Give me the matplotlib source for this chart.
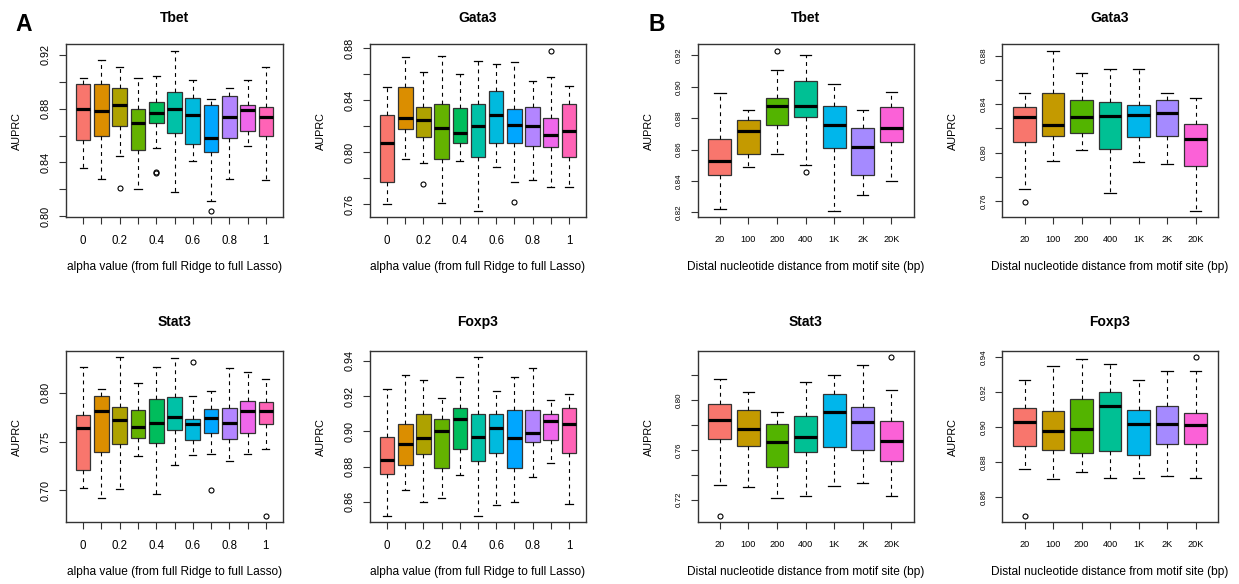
import matplotlib
matplotlib.use("Agg")
import matplotlib.pyplot as plt

plt.rcParams["font.family"] = ["Liberation Sans", "DejaVu Sans"]

W, H = 1239, 584

alpha_labels = ["0", "", "0.2", "", "0.4", "", "0.6", "", "0.8", "", "1"]
dist_labels = ["20", "100", "200", "400", "1K", "2K", "20K"]
alpha_xlab = "alpha value (from full Ridge to full Lasso)"
dist_xlab = "Distal nucleotide distance from motif site (bp)"

# ggplot hue palettes (11 and 7 levels)
pal11 = ["#F8766D", "#DB8E00", "#AEA200", "#64B200", "#00BD5C", "#00C1A7",
         "#00BADE", "#00A6FF", "#B385FF", "#EF67EB", "#FF63B6"]
pal7 = ["#F8766D", "#C49A00", "#53B400", "#00C094", "#00B6EB", "#A58AFF", "#FB61D7"]

# ---- A: alpha sweep ----
a_tbet_hi = [0.903, 0.916, 0.911, 0.903, 0.904, 0.923, 0.901, 0.887, 0.895, 0.901, 0.911]
a_tbet_q3 = [0.898, 0.898, 0.895, 0.880, 0.885, 0.892, 0.888, 0.883, 0.889, 0.883, 0.881]
a_tbet_med = [0.880, 0.878, 0.883, 0.869, 0.877, 0.880, 0.875, 0.858, 0.874, 0.879, 0.874]
a_tbet_q1 = [0.857, 0.860, 0.867, 0.849, 0.869, 0.862, 0.854, 0.848, 0.858, 0.863, 0.860]
a_tbet_lo = [0.836, 0.828, 0.845, 0.820, 0.851, 0.818, 0.841, 0.811, 0.828, 0.852, 0.827]
a_tbet_out = [[], [], [0.821], [], [0.833, 0.832], [], [], [0.804], [], [], []]
a_tbet_yt = [0.80, 0.82, 0.84, 0.86, 0.88, 0.90, 0.92]
a_tbet_yl = ["0.80", "", "0.84", "", "0.88", "", "0.92"]

a_gata3_hi = [0.850, 0.873, 0.862, 0.874, 0.860, 0.870, 0.868, 0.869, 0.855, 0.858, 0.851]
a_gata3_q3 = [0.829, 0.850, 0.835, 0.837, 0.834, 0.837, 0.847, 0.833, 0.835, 0.826, 0.837]
a_gata3_med = [0.807, 0.826, 0.825, 0.819, 0.815, 0.820, 0.829, 0.821, 0.820, 0.813, 0.816]
a_gata3_q1 = [0.777, 0.818, 0.812, 0.795, 0.807, 0.796, 0.807, 0.807, 0.805, 0.804, 0.796]
a_gata3_lo = [0.760, 0.795, 0.792, 0.761, 0.793, 0.755, 0.789, 0.777, 0.779, 0.773, 0.773]
a_gata3_out = [[], [], [0.776], [], [], [], [], [0.762], [], [0.878], []]
a_gata3_yt = [0.76, 0.78, 0.80, 0.82, 0.84, 0.86, 0.88]
a_gata3_yl = ["0.76", "", "0.80", "", "0.84", "", "0.88"]

a_stat3_hi = [0.826, 0.804, 0.836, 0.810, 0.826, 0.835, 0.797, 0.802, 0.825, 0.821, 0.814]
a_stat3_q3 = [0.777, 0.797, 0.785, 0.782, 0.793, 0.795, 0.773, 0.783, 0.784, 0.791, 0.790]
a_stat3_med = [0.764, 0.781, 0.772, 0.765, 0.769, 0.775, 0.768, 0.774, 0.769, 0.781, 0.781]
a_stat3_q1 = [0.721, 0.739, 0.747, 0.754, 0.749, 0.762, 0.752, 0.759, 0.753, 0.759, 0.768]
a_stat3_lo = [0.703, 0.692, 0.702, 0.735, 0.696, 0.726, 0.736, 0.737, 0.730, 0.737, 0.742]
a_stat3_out = [[], [], [], [], [], [], [0.831], [0.701], [], [], [0.674]]
a_stat3_yt = [0.70, 0.75, 0.80]
a_stat3_yl = ["0.70", "0.75", "0.80"]

a_foxp3_hi = [0.924, 0.932, 0.929, 0.919, 0.931, 0.942, 0.923, 0.931, 0.936, 0.918, 0.921]
a_foxp3_q3 = [0.897, 0.904, 0.910, 0.907, 0.913, 0.910, 0.910, 0.912, 0.912, 0.910, 0.913]
a_foxp3_med = [0.884, 0.893, 0.896, 0.900, 0.907, 0.897, 0.902, 0.896, 0.899, 0.906, 0.904]
a_foxp3_q1 = [0.876, 0.881, 0.887, 0.879, 0.890, 0.883, 0.888, 0.879, 0.894, 0.895, 0.888]
a_foxp3_lo = [0.852, 0.867, 0.860, 0.862, 0.875, 0.852, 0.858, 0.860, 0.874, 0.882, 0.859]
a_foxp3_out = [[], [], [], [], [], [], [], [], [], [], []]
a_foxp3_yt = [0.86, 0.88, 0.90, 0.92, 0.94]
a_foxp3_yl = ["0.86", "0.88", "0.90", "0.92", "0.94"]

# ---- B: distal distance ----
b_tbet_hi = [0.896, 0.885, 0.911, 0.920, 0.902, 0.885, 0.897]
b_tbet_q3 = [0.867, 0.879, 0.893, 0.904, 0.888, 0.874, 0.887]
b_tbet_med = [0.853, 0.872, 0.888, 0.888, 0.876, 0.862, 0.874]
b_tbet_q1 = [0.844, 0.857, 0.876, 0.881, 0.861, 0.844, 0.865]
b_tbet_lo = [0.822, 0.849, 0.857, 0.850, 0.821, 0.831, 0.840]
b_tbet_out = [[], [], [0.923], [0.846], [], [], []]
b_tbet_yt = [0.82, 0.84, 0.86, 0.88, 0.90, 0.92]
b_tbet_yl = ["0.82", "0.84", "0.86", "0.88", "0.90", "0.92"]

b_gata3_hi = [0.849, 0.884, 0.866, 0.869, 0.869, 0.849, 0.845]
b_gata3_q3 = [0.838, 0.849, 0.843, 0.842, 0.839, 0.843, 0.824]
b_gata3_med = [0.829, 0.823, 0.829, 0.830, 0.831, 0.833, 0.811]
b_gata3_q1 = [0.809, 0.814, 0.816, 0.803, 0.813, 0.814, 0.789]
b_gata3_lo = [0.770, 0.793, 0.802, 0.767, 0.792, 0.791, 0.752]
b_gata3_out = [[0.759], [], [], [], [], [], []]
b_gata3_yt = [0.76, 0.78, 0.80, 0.82, 0.84, 0.86, 0.88]
b_gata3_yl = ["0.76", "", "0.80", "", "0.84", "", "0.88"]

b_stat3_hi = [0.817, 0.806, 0.790, 0.814, 0.820, 0.828, 0.808]
b_stat3_q3 = [0.797, 0.792, 0.781, 0.787, 0.805, 0.794, 0.783]
b_stat3_med = [0.784, 0.777, 0.766, 0.770, 0.790, 0.782, 0.767]
b_stat3_q1 = [0.769, 0.763, 0.746, 0.758, 0.762, 0.760, 0.751]
b_stat3_lo = [0.732, 0.730, 0.721, 0.723, 0.731, 0.733, 0.723]
b_stat3_out = [[0.707], [], [], [], [], [], [0.834]]
b_stat3_yt = [0.72, 0.74, 0.76, 0.78, 0.80, 0.82]
b_stat3_yl = ["0.72", "", "0.76", "", "0.80", ""]

b_foxp3_hi = [0.927, 0.935, 0.939, 0.936, 0.927, 0.932, 0.932]
b_foxp3_q3 = [0.911, 0.909, 0.916, 0.920, 0.910, 0.912, 0.908]
b_foxp3_med = [0.903, 0.898, 0.899, 0.912, 0.902, 0.902, 0.901]
b_foxp3_q1 = [0.889, 0.887, 0.885, 0.886, 0.884, 0.890, 0.890]
b_foxp3_lo = [0.876, 0.870, 0.874, 0.871, 0.871, 0.872, 0.871]
b_foxp3_out = [[0.849], [], [], [], [], [], [0.940]]
b_foxp3_yt = [0.86, 0.88, 0.90, 0.92, 0.94]
b_foxp3_yl = ["0.86", "0.88", "0.90", "0.92", "0.94"]

EDGE = "#333333"


def panel(fig, px, title, hi, q3, med, q1, lo, out, xlabels, colors, xlab,
          yt, yl, xfs, yfs, yfam, ypad, tpad):
    x0, y0, w, h = px
    ax = fig.add_axes([x0 / W, 1 - (y0 + h) / H, w / W, h / H])
    stats = [dict(whislo=l, q1=a, med=m, q3=b, whishi=t, fliers=f)
             for t, b, m, a, l, f in zip(hi, q3, med, q1, lo, out)]
    n = len(stats)
    pos = list(range(1, n + 1))
    bp = ax.bxp(stats, positions=pos, widths=0.8, capwidths=0.4, patch_artist=True,
                boxprops=dict(edgecolor=EDGE, linewidth=0.9),
                medianprops=dict(color="black", linewidth=2.3, solid_capstyle="butt"),
                whiskerprops=dict(color="black", linewidth=0.8, linestyle=(0, (3.5, 3.5))),
                capprops=dict(color="black", linewidth=0.9),
                flierprops=dict(marker="o", markerfacecolor="none", markeredgecolor="black",
                                markersize=3.6, markeredgewidth=0.8))
    for patch, c in zip(bp["boxes"], colors):
        patch.set_facecolor(c)

    # R-style 4% axis padding
    vals = lo + hi + [v for f in out for v in f]
    vmin, vmax = min(vals), max(vals)
    pad = 0.04 * (vmax - vmin)
    ax.set_ylim(vmin - pad, vmax + pad)
    xpad = 0.04 * n
    ax.set_xlim(0.5 - xpad, n + 0.5 + xpad)

    ax.set_xticks(pos)
    ax.set_xticklabels(xlabels, fontsize=xfs)
    ax.set_yticks(yt)
    ax.set_yticklabels(yl, fontsize=yfs, rotation=90, va="center", family=yfam)
    ax.tick_params(axis="both", direction="out", length=4.8, width=0.8, colors=EDGE,
                   labelcolor="black")
    ax.tick_params(axis="x", pad=8)
    ax.tick_params(axis="y", pad=ypad)
    for s in ax.spines.values():
        s.set_color(EDGE)
        s.set_linewidth(1.0)

    ax.set_title(title, fontsize=10, fontweight="bold", pad=tpad)
    ax.set_ylabel("AUPRC", fontsize=7.8)
    ax.yaxis.set_label_coords(-44 / w, 0.5)
    ax.set_xlabel(xlab, fontsize=8.6)
    ax.xaxis.set_label_coords(0.5, -44 / h)
    return ax


fig = plt.figure(figsize=(W / 100, H / 100), dpi=100)

cols = [66, 370, 697.5, 1002.3]
widths = [217, 216, 216, 215.5]
rows = [44.3, 351]
heights = [173, 171.3]
tpads = [16, 18]
narrow = ["Liberation Sans Narrow", "Liberation Sans", "DejaVu Sans"]
plain = ["Liberation Sans", "DejaVu Sans"]

panel(fig, (cols[0], rows[0], widths[0], heights[0]), "Tbet",
      a_tbet_hi, a_tbet_q3, a_tbet_med, a_tbet_q1, a_tbet_lo, a_tbet_out,
      alpha_labels, pal11, alpha_xlab, a_tbet_yt, a_tbet_yl, 8.3, 7.8, narrow, 6.5, tpads[0])
panel(fig, (cols[1], rows[0], widths[1], heights[0]), "Gata3",
      a_gata3_hi, a_gata3_q3, a_gata3_med, a_gata3_q1, a_gata3_lo, a_gata3_out,
      alpha_labels, pal11, alpha_xlab, a_gata3_yt, a_gata3_yl, 8.3, 7.8, narrow, 6.5, tpads[0])
panel(fig, (cols[0], rows[1], widths[0], heights[1]), "Stat3",
      a_stat3_hi, a_stat3_q3, a_stat3_med, a_stat3_q1, a_stat3_lo, a_stat3_out,
      alpha_labels, pal11, alpha_xlab, a_stat3_yt, a_stat3_yl, 8.3, 7.8, narrow, 6.5, tpads[1])
panel(fig, (cols[1], rows[1], widths[1], heights[1]), "Foxp3",
      a_foxp3_hi, a_foxp3_q3, a_foxp3_med, a_foxp3_q1, a_foxp3_lo, a_foxp3_out,
      alpha_labels, pal11, alpha_xlab, a_foxp3_yt, a_foxp3_yl, 8.3, 7.8, narrow, 6.5, tpads[1])

panel(fig, (cols[2], rows[0], widths[2], heights[0]), "Tbet",
      b_tbet_hi, b_tbet_q3, b_tbet_med, b_tbet_q1, b_tbet_lo, b_tbet_out,
      dist_labels, pal7, dist_xlab, b_tbet_yt, b_tbet_yl, 6.6, 5.8, plain, 5.5, tpads[0])
panel(fig, (cols[3], rows[0], widths[3], heights[0]), "Gata3",
      b_gata3_hi, b_gata3_q3, b_gata3_med, b_gata3_q1, b_gata3_lo, b_gata3_out,
      dist_labels, pal7, dist_xlab, b_gata3_yt, b_gata3_yl, 6.6, 5.8, plain, 5.5, tpads[0])
panel(fig, (cols[2], rows[1], widths[2], heights[1]), "Stat3",
      b_stat3_hi, b_stat3_q3, b_stat3_med, b_stat3_q1, b_stat3_lo, b_stat3_out,
      dist_labels, pal7, dist_xlab, b_stat3_yt, b_stat3_yl, 6.6, 5.8, plain, 5.5, tpads[1])
panel(fig, (cols[3], rows[1], widths[3], heights[1]), "Foxp3",
      b_foxp3_hi, b_foxp3_q3, b_foxp3_med, b_foxp3_q1, b_foxp3_lo, b_foxp3_out,
      dist_labels, pal7, dist_xlab, b_foxp3_yt, b_foxp3_yl, 6.6, 5.8, plain, 5.5, tpads[1])

fig.text(15 / W, 1 - 31 / H, "A", fontsize=16.5, fontweight="bold", ha="left", va="baseline")
fig.text(649 / W, 1 - 31 / H, "B", fontsize=16.5, fontweight="bold", ha="left", va="baseline")

fig.savefig("out.png", dpi=100, facecolor="white")
